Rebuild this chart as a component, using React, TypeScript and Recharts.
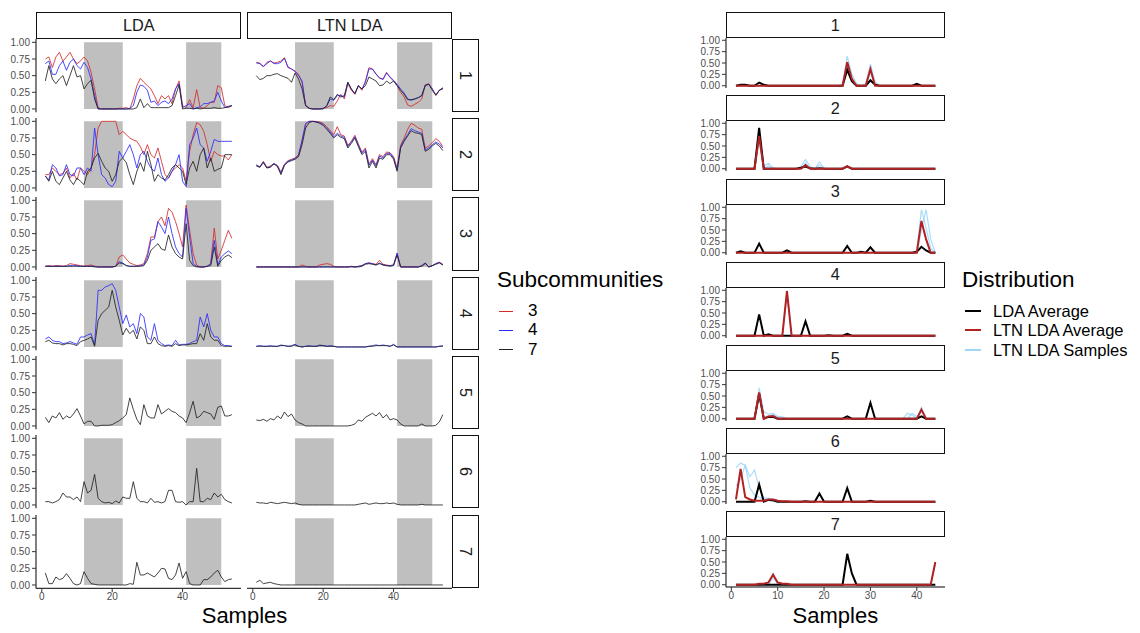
import React from 'react';
import { LineChart, Line, XAxis, YAxis, ReferenceArea } from 'recharts';

const FONT = '"Liberation Sans", Arial, sans-serif';

// sample numbers on the x axis
const leftSamples = [1,2,3,4,5,6,7,8,9,10,11,12,13,14,15,16,17,18,19,20,21,22,23,24,25,26,27,28,29,30,31,32,33,34,35,36,37,38,39,40,41,42,43,44,45,46,47,48,49,50,51,52,53,54];
const rightSamples = [1,2,3,4,5,6,7,8,9,10,11,12,13,14,15,16,17,18,19,20,21,22,23,24,25,26,27,28,29,30,31,32,33,34,35,36,37,38,39,40,41,42,43,44];

const yTicks = [0, 0.25, 0.5, 0.75, 1];
const leftXTicks = [0, 20, 40];
const rightXTicks = [0, 10, 20, 30, 40];
const shaded = [[12, 23], [41, 51]];
const topicLabels = ['1', '2', '3', '4', '5', '6', '7'];
const modelLabels = ['LDA', 'LTN LDA'];
const subcommunities = ['3', '4', '7'];
const subColors = ['#d42a2a', '#2a2aff', '#222222'];
const distLabels = ['LDA Average', 'LTN LDA Average', 'LTN LDA Samples'];
const distColors = ['#000000', '#b22222', '#9fd6f7'];

// ---- LDA, subcommunities 3 / 4 / 7 ----
const lda1k3 = [0.75,0.78,0.62,0.78,0.85,0.72,0.78,0.85,0.75,0.68,0.72,0.78,0.72,0.55,0.3,0.02,0,0,0,0,0,0.01,0.01,0.02,0,0.15,0.35,0.46,0.4,0.35,0.3,0.2,0.08,0.2,0.15,0.2,0.08,0.3,0.42,0.05,0.02,0.14,0.02,0.29,0.02,0.01,0.05,0.1,0.1,0.35,0.32,0.05,0.02,0.05];
const lda1k4 = [0.68,0.72,0.52,0.52,0.65,0.72,0.58,0.7,0.75,0.65,0.6,0.7,0.62,0.45,0.2,0,0,0,0,0,0,0,0,0,0.01,0.05,0.25,0.36,0.34,0.28,0.1,0.12,0.05,0.1,0.12,0.08,0.15,0.3,0.38,0.02,0.05,0.08,0,0.02,0.03,0.08,0.08,0.1,0.12,0.25,0.12,0.02,0.04,0.05];
const lda1k7 = [0.42,0.65,0.45,0.38,0.45,0.5,0.35,0.5,0.65,0.48,0.5,0.3,0.38,0.43,0.15,0,0,0,0,0,0,0,0,0,0,0,0.02,0.15,0.02,0.08,0.02,0.02,0.02,0.02,0.02,0.02,0.05,0.2,0.36,0,0.01,0.01,0,0.01,0,0.01,0.01,0.01,0.02,0.01,0.01,0.02,0.03,0.05];
const lda2k3 = [0.2,0.2,0.3,0.25,0.2,0.22,0.3,0.15,0.22,0.12,0.3,0.25,0.2,0.3,0.5,0.9,1,1,1,1,1,0.8,0.85,0.8,0.75,0.72,0.7,0.62,0.5,0.65,0.5,0.45,0.6,0.4,0.2,0.15,0.25,0.3,0.35,0.3,0.1,0.55,0.8,0.98,0.95,0.85,0.65,0.4,0.55,0.5,0.48,0.48,0.42,0.5];
const lda2k4 = [0.18,0.12,0.35,0.3,0.18,0.2,0.35,0.2,0.18,0.3,0.3,0.2,0.3,0.25,0.9,0.5,0.2,0.15,0.05,0.02,0.1,0.55,0.45,0.55,0.65,0.5,0.3,0.5,0.55,0.4,0.3,0.25,0.45,0.2,0.1,0.15,0.25,0.35,0.5,0.1,0.02,0.65,0.75,0.9,0.65,0.6,0.4,0.55,0.73,0.7,0.7,0.7,0.7,0.7];
const lda2k7 = [0.18,0.1,0.25,0.1,0.05,0.15,0.25,0.12,0.05,0.15,0.1,0.05,0.25,0.3,0.45,0.52,0.4,0.3,0.25,0.1,0.2,0.4,0.45,0.38,0.2,0.05,0.25,0.38,0.25,0.55,0.35,0.1,0.2,0.15,0.12,0.2,0.3,0.35,0.3,0.25,0.05,0.3,0.4,0.25,0.5,0.6,0.3,0.45,0.25,0.28,0.3,0.5,0.5,0.5];
const lda3k3 = [0.01,0.02,0.01,0.02,0.02,0.01,0.02,0.05,0.04,0.03,0.02,0.01,0.02,0.03,0.01,0,0,0,0,0,0.01,0.15,0.18,0.12,0.06,0.04,0.02,0.03,0.05,0.2,0.45,0.45,0.68,0.75,0.62,0.88,0.82,0.68,0.5,0.3,0.93,0.55,0.2,0.03,0,0,0.01,0.05,0.58,0.12,0.25,0.4,0.55,0.43];
const lda3k4 = [0.01,0.01,0.01,0.01,0.01,0.01,0.01,0.02,0.02,0.02,0.01,0.01,0.01,0.01,0.01,0,0,0,0,0,0.01,0.08,0.06,0.02,0.01,0.01,0.01,0.02,0.03,0.15,0.4,0.42,0.68,0.6,0.5,0.75,0.5,0.3,0.2,0.15,0.88,0.45,0.05,0.01,0,0,0.01,0.05,0.4,0.03,0.15,0.2,0.24,0.2];
const lda3k7 = [0.01,0.01,0.01,0.01,0.01,0.01,0.01,0.01,0.01,0.01,0.01,0.01,0.01,0.01,0,0,0,0,0,0,0.01,0.06,0.05,0.02,0.01,0.01,0.01,0.01,0.02,0.1,0.25,0.3,0.35,0.27,0.25,0.48,0.3,0.2,0.15,0.12,0.65,0.1,0.02,0,0,0,0.01,0.02,0.3,0.01,0.1,0.15,0.18,0.14];
const lda4k4 = [0.12,0.15,0.1,0.08,0.08,0.05,0.06,0.08,0.06,0.04,0.15,0.15,0.18,0.2,0.03,0.85,0.85,0.9,0.92,0.95,0.85,0.6,0.35,0.48,0.3,0.35,0.2,0.5,0.45,0.15,0.1,0.35,0.1,0.05,0.02,0.03,0.02,0.1,0.03,0.04,0.04,0.05,0.08,0.1,0.45,0.3,0.5,0.25,0.15,0.15,0.05,0.02,0.02,0.01];
const lda4k7 = [0.08,0.1,0.06,0.05,0.05,0.03,0.05,0.05,0.04,0.02,0.08,0.1,0.12,0.15,0.01,0.4,0.5,0.55,0.6,0.85,0.6,0.4,0.18,0.28,0.2,0.25,0.12,0.3,0.25,0.05,0.05,0.15,0.05,0.02,0.01,0.02,0.01,0.05,0.02,0.03,0.03,0.04,0.05,0.05,0.2,0.1,0.35,0.15,0.1,0.1,0.02,0.01,0.01,0.01];
const lda5k7 = [0.13,0.05,0.15,0.12,0.2,0.1,0.15,0.12,0.18,0.26,0.15,0.03,0.07,0.07,0,0,0.01,0.01,0.01,0.02,0.05,0.08,0.12,0.17,0.42,0.25,0.1,0.02,0.32,0.15,0.12,0.12,0.32,0.18,0.22,0.26,0.22,0.2,0.15,0.12,0.05,0.2,0.37,0.12,0.15,0.22,0.2,0.18,0.1,0.28,0.3,0.15,0.15,0.17];
const lda6k7 = [0.05,0.05,0.03,0.05,0.08,0.18,0.12,0.12,0.08,0.12,0.05,0.35,0.18,0.22,0.46,0.1,0.05,0.03,0.04,0.02,0.06,0.03,0.12,0.1,0.1,0.35,0.1,0.05,0.05,0.03,0.1,0.04,0.05,0.03,0.05,0.22,0.22,0.05,0.04,0.05,0,0.05,0.05,0.55,0.05,0.05,0.1,0.08,0.18,0.12,0.16,0.08,0.05,0.03];
const lda7k7 = [0.18,0.02,0.02,0.12,0.08,0.1,0.17,0.1,0.02,0,0.02,0.2,0.1,0.02,0.01,0,0,0,0,0,0,0,0,0,0.02,0.01,0.34,0.15,0.15,0.18,0.15,0.12,0.18,0.25,0.24,0.1,0.08,0.15,0.33,0.1,0.2,0.02,0,0,0,0.08,0.08,0.12,0.18,0.22,0.12,0.05,0.08,0.09];

// ---- LTN LDA, subcommunities 3 / 4 / 7 ----
const ltn1k3 = [0.7,0.69,0.63,0.7,0.72,0.69,0.7,0.72,0.77,0.62,0.6,0.57,0.52,0.4,0.06,0.01,0,0,0,0.01,0.02,0.05,0.04,0.12,0.22,0.15,0.38,0.28,0.22,0.35,0.28,0.42,0.62,0.6,0.53,0.46,0.45,0.55,0.47,0.42,0.35,0.25,0.18,0.06,0.04,0.07,0.1,0.15,0.36,0.38,0.3,0.2,0.28,0.3];
const ltn1k4 = [0.69,0.68,0.64,0.68,0.72,0.68,0.68,0.7,0.76,0.63,0.6,0.56,0.5,0.42,0.05,0.01,0,0,0,0.01,0.04,0.15,0.13,0.2,0.2,0.18,0.4,0.3,0.23,0.35,0.3,0.4,0.6,0.6,0.52,0.47,0.44,0.54,0.48,0.43,0.37,0.3,0.24,0.15,0.13,0.15,0.17,0.2,0.36,0.37,0.3,0.21,0.28,0.32];
const ltn1k7 = [0.5,0.44,0.46,0.5,0.5,0.52,0.53,0.5,0.48,0.46,0.4,0.54,0.45,0.3,0.05,0.01,0,0,0,0,0.05,0.18,0.14,0.22,0.18,0.2,0.4,0.3,0.23,0.35,0.3,0.35,0.48,0.45,0.42,0.35,0.36,0.42,0.38,0.42,0.35,0.28,0.22,0.14,0.14,0.15,0.17,0.2,0.35,0.37,0.28,0.21,0.28,0.31];
const ltn2k3 = [0.35,0.31,0.4,0.31,0.33,0.36,0.34,0.24,0.36,0.41,0.43,0.45,0.5,0.7,0.95,1,1,1,0.99,0.97,0.92,0.86,0.8,0.92,0.8,0.78,0.64,0.7,0.79,0.66,0.54,0.6,0.36,0.44,0.35,0.5,0.47,0.54,0.53,0.47,0.3,0.64,0.75,0.88,0.97,0.94,0.9,0.88,0.6,0.63,0.68,0.74,0.7,0.62];
const ltn2k4 = [0.34,0.32,0.39,0.3,0.32,0.37,0.33,0.22,0.35,0.4,0.42,0.44,0.49,0.72,0.97,1,1,0.99,0.98,0.95,0.9,0.84,0.77,0.82,0.78,0.76,0.62,0.69,0.77,0.64,0.52,0.58,0.34,0.42,0.33,0.48,0.45,0.52,0.52,0.45,0.27,0.62,0.72,0.8,0.89,0.86,0.84,0.82,0.57,0.6,0.65,0.69,0.66,0.6];
const ltn2k7 = [0.33,0.31,0.38,0.3,0.31,0.36,0.32,0.2,0.34,0.39,0.41,0.43,0.47,0.65,0.9,0.98,1,0.99,0.97,0.94,0.88,0.82,0.75,0.8,0.76,0.74,0.6,0.67,0.75,0.62,0.5,0.55,0.3,0.4,0.3,0.45,0.43,0.5,0.5,0.43,0.25,0.6,0.7,0.78,0.86,0.83,0.82,0.8,0.55,0.58,0.63,0.67,0.63,0.56];
const ltn3k3 = [0,0,0,0,0,0,0,0,0,0,0,0,0,0.03,0.01,0,0,0,0.03,0.04,0.05,0.04,0.01,0,0,0,0,0.01,0,0.01,0.02,0.05,0.06,0.05,0.04,0.1,0.04,0.03,0.02,0.03,0.2,0,0,0,0,0,0,0.02,0.06,0,0.02,0.05,0.07,0.04];
const ltn3k4 = [0,0,0,0,0,0,0,0,0,0,0,0,0,0,0,0,0,0,0,0,0,0,0,0,0,0,0,0.01,0,0.01,0.02,0.05,0.06,0.05,0.03,0.06,0.03,0.02,0.02,0.03,0.21,0,0,0,0,0,0,0.02,0.06,0,0.02,0.05,0.07,0.03];
const ltn3k7 = [0,0,0,0,0,0,0,0,0,0,0,0,0,0,0,0,0,0,0,0,0,0,0,0,0,0,0,0,0,0,0.01,0.04,0.05,0.04,0.03,0.05,0.03,0.02,0.01,0.02,0.18,0,0,0,0,0,0,0.01,0.05,0,0.02,0.04,0.06,0.03];
const ltn4k4 = [0.01,0.02,0.01,0.01,0.02,0.01,0.01,0.03,0.02,0.01,0.02,0.04,0.01,0,0.01,0.02,0.01,0.01,0.03,0.02,0.01,0.02,0.01,0,0,0,0,0,0,0,0,0,0.01,0.02,0.03,0.02,0.03,0.02,0.01,0.04,0,0,0,0,0,0,0,0,0,0,0,0,0.01,0.02];
const ltn4k7 = [0.01,0.01,0.01,0.01,0.01,0.01,0.01,0.02,0.02,0.01,0.01,0.03,0.01,0,0.01,0.01,0.01,0.01,0.02,0.02,0.01,0.01,0.01,0,0,0,0,0,0,0,0,0,0.01,0.01,0.02,0.02,0.02,0.02,0.01,0.03,0,0,0,0,0,0,0,0,0,0,0,0,0.01,0.01];
const ltn5k7 = [0.09,0.08,0.1,0.07,0.11,0.09,0.15,0.11,0.21,0.14,0.18,0.09,0.05,0.03,0,0,0,0,0,0,0,0,0,0,0,0,0,0.01,0.03,0.09,0.07,0.13,0.16,0.19,0.15,0.2,0.12,0.17,0.09,0.11,0.09,0.03,0,0,0,0,0,0.03,0,0,0,0.01,0.06,0.17];
const ltn6k7 = [0.04,0.03,0.03,0.02,0.04,0.03,0.02,0.03,0.04,0.03,0.02,0.03,0.01,0,0,0,0,0,0,0,0,0,0,0,0,0,0,0,0,0.01,0.02,0.03,0.01,0.02,0.03,0.02,0.02,0.03,0.02,0.03,0.01,0,0,0,0,0,0,0.01,0,0,0,0,0,0];
const ltn7k7 = [0.04,0.07,0.02,0.03,0.04,0.02,0.01,0,0,0,0,0,0,0,0,0,0,0,0,0,0,0,0,0,0,0,0,0,0,0,0,0,0,0,0,0,0,0,0,0,0,0,0,0,0,0,0,0,0,0,0,0,0,0];

// ---- Distribution panels (44 samples) ----
const d1Lda = [0,0.02,0.02,0,0,0.07,0.02,0,0,0,0,0,0,0,0,0,0,0,0,0,0,0,0,0,0.35,0.1,0,0,0,0.12,0.02,0,0,0,0,0,0,0,0,0.04,0,0,0,0];
const d1Ltn = [0,0,0,0,0,0,0,0,0,0,0,0,0,0,0,0,0,0,0,0,0,0,0,0,0.52,0.15,0,0,0,0.37,0,0,0,0,0,0,0,0,0,0,0,0,0,0];
const d1SampA = [0,0,0,0,0,0,0,0,0,0,0,0,0,0,0,0,0,0,0,0,0,0,0,0.05,0.65,0.25,0.05,0,0.05,0.48,0.08,0,0,0,0,0,0,0,0,0,0,0,0,0];
const d1SampB = [0,0,0,0,0,0,0,0,0,0,0,0,0,0,0,0,0,0,0,0,0,0,0,0,0.45,0.12,0,0,0,0.3,0.02,0,0,0,0,0,0,0,0,0,0,0,0,0];
const d2Lda = [0,0,0,0,0,0.9,0,0,0,0,0,0,0,0,0.02,0.05,0.01,0,0.01,0,0,0,0,0,0.05,0,0,0,0,0,0,0,0,0,0,0,0,0,0,0,0,0,0,0];
const d2Ltn = [0,0,0,0,0,0.72,0,0,0,0,0,0,0,0,0,0.08,0,0,0,0,0,0,0,0,0.05,0,0,0,0,0,0,0,0,0,0,0,0,0,0,0,0,0,0,0];
const d2SampA = [0,0,0,0,0,0.82,0.05,0.12,0.02,0,0,0,0,0,0.05,0.2,0.05,0,0.15,0.02,0,0,0,0,0.06,0,0,0,0,0,0,0,0,0,0,0,0,0,0,0,0,0,0,0];
const d2SampB = [0,0,0,0,0,0.6,0,0.06,0,0,0,0,0,0,0,0.12,0,0,0.08,0,0,0,0,0,0.04,0,0,0,0,0,0,0,0,0,0,0,0,0,0,0,0,0,0,0];
const d3Lda = [0,0.03,0,0,0,0.2,0,0,0,0,0,0.05,0,0,0,0,0,0,0,0,0,0,0,0,0.15,0,0,0.02,0,0.12,0,0,0,0,0,0,0,0,0,0.02,0.13,0.05,0,0];
const d3Ltn = [0,0,0,0,0,0,0,0,0,0,0,0,0,0,0,0,0,0,0,0,0,0,0,0,0,0,0,0,0,0,0,0,0,0,0,0,0,0,0,0,0.7,0.3,0,0];
const d3SampA = [0,0,0,0,0,0,0,0,0,0,0,0,0,0,0,0,0,0,0,0,0,0,0,0,0,0,0,0,0,0,0,0,0,0,0,0,0,0,0,0.05,0.95,0.55,0.1,0];
const d3SampB = [0,0,0,0,0,0,0,0,0,0,0,0,0,0,0,0,0,0,0,0,0,0,0,0,0,0,0,0,0,0,0,0,0,0,0,0,0,0,0,0,0.5,0.95,0.3,0];
const d4Lda = [0,0,0,0,0,0.47,0,0.03,0,0,0,0,0,0,0,0.32,0,0,0,0,0.01,0,0,0,0.04,0,0,0,0,0,0,0,0,0,0,0,0,0,0,0,0,0,0,0];
const d4Ltn = [0,0,0,0,0,0,0,0,0,0,0,0.98,0,0,0,0,0,0,0,0,0,0,0,0,0,0,0,0,0,0,0,0,0,0,0,0,0,0,0,0,0,0,0,0];
const d4SampA = [0,0,0,0,0,0,0,0,0,0,0,1,0,0,0,0,0,0,0,0,0,0,0,0,0,0,0,0,0,0,0,0,0,0,0,0,0,0,0,0,0,0,0,0];
const d4SampB = [0,0,0,0,0,0,0,0,0,0,0,0.93,0.02,0,0,0,0,0,0,0,0,0,0,0,0,0,0,0,0,0,0,0,0,0,0,0,0,0,0,0,0,0,0,0];
const d5Lda = [0,0,0,0,0,0.55,0,0.04,0.04,0,0,0,0,0,0,0,0,0,0,0,0,0,0,0,0.05,0,0,0,0,0.35,0,0,0,0,0,0,0,0,0,0,0.05,0,0,0];
const d5Ltn = [0,0,0,0,0,0.58,0,0.05,0.06,0,0,0,0,0,0,0,0,0,0,0,0,0,0,0,0,0,0,0,0,0,0,0,0,0,0,0,0,0,0,0,0.2,0,0,0];
const d5SampA = [0,0,0,0,0,0.68,0.15,0.1,0.12,0.05,0.04,0,0,0,0,0,0,0,0,0,0,0,0,0,0,0,0,0,0,0,0,0,0,0,0,0,0,0.12,0.08,0,0.25,0,0,0];
const d5SampB = [0,0,0,0,0,0.45,0.05,0.06,0.1,0.02,0,0,0,0,0,0,0,0,0,0,0,0,0,0,0,0,0,0,0,0,0,0,0,0,0,0,0,0,0.12,0.05,0.15,0,0,0];
const d6Lda = [0,0,0,0,0,0.38,0,0.04,0.03,0,0,0,0,0,0,0.01,0,0,0.18,0,0,0,0,0,0.3,0,0,0,0,0.02,0,0,0,0,0,0,0,0,0,0,0,0,0,0];
const d6Ltn = [0.05,0.72,0.1,0.05,0.02,0.02,0.02,0.05,0.05,0.02,0.01,0.01,0,0,0,0,0,0,0,0,0,0,0,0,0,0,0,0,0,0,0,0,0,0,0,0,0,0,0,0,0,0,0,0];
const d6SampA = [0.75,0.85,0.8,0.55,0.7,0.3,0.08,0.08,0.05,0.03,0,0,0,0,0,0,0,0,0,0,0,0,0,0,0,0,0,0,0,0,0,0,0,0,0,0,0,0,0,0,0,0,0,0];
const d6SampB = [0.35,0.5,0.8,0.3,0.15,0.1,0.05,0.05,0,0,0,0,0,0,0,0,0,0,0,0,0,0,0,0,0,0,0,0,0,0,0,0,0,0,0,0,0,0,0,0,0,0,0,0];
const d7Lda = [0,0,0,0,0,0,0,0,0,0,0,0,0,0,0,0,0,0,0,0,0,0,0,0,0.68,0.25,0,0,0,0,0,0,0,0,0,0,0,0,0,0,0,0,0,0];
const d7Ltn = [0,0,0,0,0,0.02,0.02,0.05,0.22,0.05,0.02,0.02,0,0,0,0,0,0,0,0,0,0,0,0,0,0,0,0,0,0,0,0,0,0,0,0,0,0,0,0,0,0,0,0.5];
const d7SampA = [0,0,0,0,0,0,0,0,0.25,0,0,0,0,0,0,0,0,0,0,0,0,0,0,0,0,0,0,0,0,0,0,0,0,0,0,0,0,0,0,0,0,0,0,0.5];
const d7SampB = [0,0,0,0,0,0,0,0,0.15,0.02,0,0,0,0,0,0,0,0,0,0,0,0,0,0,0,0,0,0,0,0,0,0,0,0,0,0,0,0,0,0,0,0,0,0.45];

type Topic = { k3?: number[]; k4?: number[]; k7: number[] };

const ldaTopics: Topic[] = [
  { k3: lda1k3, k4: lda1k4, k7: lda1k7 },
  { k3: lda2k3, k4: lda2k4, k7: lda2k7 },
  { k3: lda3k3, k4: lda3k4, k7: lda3k7 },
  { k4: lda4k4, k7: lda4k7 },
  { k7: lda5k7 },
  { k7: lda6k7 },
  { k7: lda7k7 },
];
const ltnTopics: Topic[] = [
  { k3: ltn1k3, k4: ltn1k4, k7: ltn1k7 },
  { k3: ltn2k3, k4: ltn2k4, k7: ltn2k7 },
  { k3: ltn3k3, k4: ltn3k4, k7: ltn3k7 },
  { k4: ltn4k4, k7: ltn4k7 },
  { k7: ltn5k7 },
  { k7: ltn6k7 },
  { k7: ltn7k7 },
];
const distRows = [
  { lda: d1Lda, ltn: d1Ltn, a: d1SampA, b: d1SampB },
  { lda: d2Lda, ltn: d2Ltn, a: d2SampA, b: d2SampB },
  { lda: d3Lda, ltn: d3Ltn, a: d3SampA, b: d3SampB },
  { lda: d4Lda, ltn: d4Ltn, a: d4SampA, b: d4SampB },
  { lda: d5Lda, ltn: d5Ltn, a: d5SampA, b: d5SampB },
  { lda: d6Lda, ltn: d6Ltn, a: d6SampA, b: d6SampB },
  { lda: d7Lda, ltn: d7Ltn, a: d7SampA, b: d7SampB },
];

// layout
const L_TOP = 38.7;
const L_STEP = 79.3;
const L_H = 73.3;
const L_W = 205.2;
const L_COLS = [36.2, 247.2];
const L_YW = 36;
const R_TOP = 38.2;
const R_STEP = 83.2;
const R_H = 50;
const R_X = 725.7;
const R_W = 219.3;
const R_YW = 30;
const X_AXIS_H = 20;
const PAD = 7; // room so the end tick labels are not clipped

const tickStyle = { fontSize: 10, fill: '#4d4d4d', fontFamily: FONT };
const fmt = (v: number) => v.toFixed(2);

const stripStyle: React.CSSProperties = {
  position: 'absolute',
  boxSizing: 'border-box',
  border: '1px solid #111',
  background: '#fff',
  display: 'flex',
  alignItems: 'center',
  justifyContent: 'center',
  fontSize: 16.3,
  color: '#1a1a1a',
};

function LeftPanel({ topic, col, row }: { topic: Topic; col: number; row: number }) {
  const showY = col === 0;
  const showX = row === 6;
  const data = leftSamples.map((s, i) => ({
    s,
    k3: topic.k3 ? topic.k3[i] : undefined,
    k4: topic.k4 ? topic.k4[i] : undefined,
    k7: topic.k7[i],
  }));
  const width = L_W + (showY ? L_YW : 0);
  const height = L_H + 2 * PAD + (showX ? X_AXIS_H : 0);
  return (
    <div style={{ position: 'absolute', left: L_COLS[col] - (showY ? L_YW : 0), top: L_TOP + L_STEP * row - PAD }}>
      <LineChart width={width} height={height} data={data} margin={{ top: PAD, right: 0, bottom: PAD, left: 0 }}>
        <XAxis
          type="number"
          dataKey="s"
          domain={[-1.65, 56.65]}
          ticks={leftXTicks}
          allowDataOverflow
          hide={!showX}
          height={X_AXIS_H}
          tickSize={4}
          tickMargin={1}
          tick={tickStyle}
          axisLine={{ stroke: '#000' }}
          tickLine={{ stroke: '#333' }}
        />
        <YAxis
          type="number"
          domain={[-0.05, 1.05]}
          ticks={yTicks}
          allowDataOverflow
          hide={!showY}
          width={L_YW}
          tickSize={4}
          tickMargin={2}
          tick={tickStyle}
          tickFormatter={fmt}
          interval={0}
          axisLine={{ stroke: '#000' }}
          tickLine={{ stroke: '#333' }}
        />
        {shaded.map(([a, b]) => (
          <ReferenceArea key={a} x1={a} x2={b} y1={0} y2={1} fill="#bfbfbf" fillOpacity={1} stroke="none" />
        ))}
        {topic.k3 && (
          <Line type="linear" dataKey="k3" stroke={subColors[0]} strokeOpacity={0.85} strokeWidth={1} dot={false} activeDot={false} isAnimationActive={false} />
        )}
        {topic.k4 && (
          <Line type="linear" dataKey="k4" stroke={subColors[1]} strokeOpacity={0.85} strokeWidth={1} dot={false} activeDot={false} isAnimationActive={false} />
        )}
        <Line type="linear" dataKey="k7" stroke={subColors[2]} strokeOpacity={0.85} strokeWidth={1} dot={false} activeDot={false} isAnimationActive={false} />
      </LineChart>
    </div>
  );
}

function RightPanel({ row }: { row: number }) {
  const r = distRows[row];
  const showX = row === 6;
  const data = rightSamples.map((s, i) => ({ s, lda: r.lda[i], ltn: r.ltn[i], a: r.a[i], b: r.b[i] }));
  const top = R_TOP + R_STEP * row;
  return (
    <>
      <div style={{ ...stripStyle, left: R_X, top: top - 26, width: R_W, height: 26 }}>{topicLabels[row]}</div>
      <div style={{ position: 'absolute', left: R_X - R_YW, top: top - PAD }}>
        <LineChart
          width={R_W + R_YW}
          height={R_H + 2 * PAD + (showX ? X_AXIS_H : 0)}
          data={data}
          margin={{ top: PAD, right: 0, bottom: PAD, left: 0 }}
        >
          <XAxis
            type="number"
            dataKey="s"
            domain={[-1.15, 46.15]}
            ticks={rightXTicks}
            allowDataOverflow
            hide={!showX}
            height={X_AXIS_H}
            tickSize={4}
            tickMargin={1}
            tick={tickStyle}
            axisLine={{ stroke: '#000' }}
            tickLine={{ stroke: '#333' }}
          />
          <YAxis
            type="number"
            domain={[-0.05, 1.05]}
            ticks={yTicks}
            allowDataOverflow
            width={R_YW}
            tickSize={4}
            tickMargin={2}
            tick={tickStyle}
            tickFormatter={fmt}
            interval={0}
            axisLine={{ stroke: '#000' }}
            tickLine={{ stroke: '#333' }}
          />
          <Line type="linear" dataKey="a" stroke="#87cefa" strokeOpacity={0.7} strokeWidth={1.2} dot={false} activeDot={false} isAnimationActive={false} />
          <Line type="linear" dataKey="b" stroke="#87cefa" strokeOpacity={0.7} strokeWidth={1.2} dot={false} activeDot={false} isAnimationActive={false} />
          <Line type="linear" dataKey="lda" stroke="#000" strokeWidth={2} dot={false} activeDot={false} isAnimationActive={false} />
          <Line type="linear" dataKey="ltn" stroke="#b22222" strokeWidth={2} dot={false} activeDot={false} isAnimationActive={false} />
        </LineChart>
      </div>
    </>
  );
}

export default function App() {
  return (
    <div style={{ position: 'absolute', left: 0, top: 0, width: 1140, height: 633, background: '#fff', fontFamily: FONT, overflow: 'hidden' }}>
      {/* column strips */}
      {modelLabels.map((m, c) => (
        <div key={m} style={{ ...stripStyle, left: L_COLS[c], top: 12, width: L_W, height: 26.7 }}>{m}</div>
      ))}
      {/* row strips */}
      {topicLabels.map((t, r) => (
        <div key={t} style={{ ...stripStyle, left: 452.4, top: L_TOP + L_STEP * r, width: 27, height: L_H }}>
          <span style={{ display: 'inline-block', transform: 'rotate(90deg)' }}>{t}</span>
        </div>
      ))}
      {ldaTopics.map((t, r) => (
        <LeftPanel key={'lda' + r} topic={t} col={0} row={r} />
      ))}
      {ltnTopics.map((t, r) => (
        <LeftPanel key={'ltn' + r} topic={t} col={1} row={r} />
      ))}
      <div style={{ position: 'absolute', left: 36, width: 417, top: 604, textAlign: 'center', fontSize: 22, lineHeight: '24px', color: '#000' }}>Samples</div>

      {/* Subcommunities legend */}
      <div style={{ position: 'absolute', left: 497, top: 268, fontSize: 22.5, lineHeight: '24px' }}>Subcommunities</div>
      {subcommunities.map((s, i) => (
        <div key={s}>
          <div style={{ position: 'absolute', left: 499, top: 310.5 + 19.3 * i, width: 14, height: 1.3, background: subColors[i] }} />
          <div style={{ position: 'absolute', left: 528, top: 301 + 19.3 * i, fontSize: 17, lineHeight: '20px' }}>{s}</div>
        </div>
      ))}

      {distRows.map((_, r) => (
        <RightPanel key={'d' + r} row={r} />
      ))}
      <div style={{ position: 'absolute', left: R_X, width: R_W, top: 604, textAlign: 'center', fontSize: 22, lineHeight: '24px' }}>Samples</div>

      {/* Distribution legend */}
      <div style={{ position: 'absolute', left: 962, top: 268, fontSize: 22.5, lineHeight: '24px' }}>Distribution</div>
      {distLabels.map((d, i) => (
        <div key={d}>
          <div style={{ position: 'absolute', left: 965, top: 310 + 19.3 * i, width: 16, height: 2, background: distColors[i] }} />
          <div style={{ position: 'absolute', left: 993, top: 301 + 19.3 * i, fontSize: 16.5, lineHeight: '20px' }}>{d}</div>
        </div>
      ))}
    </div>
  );
}
